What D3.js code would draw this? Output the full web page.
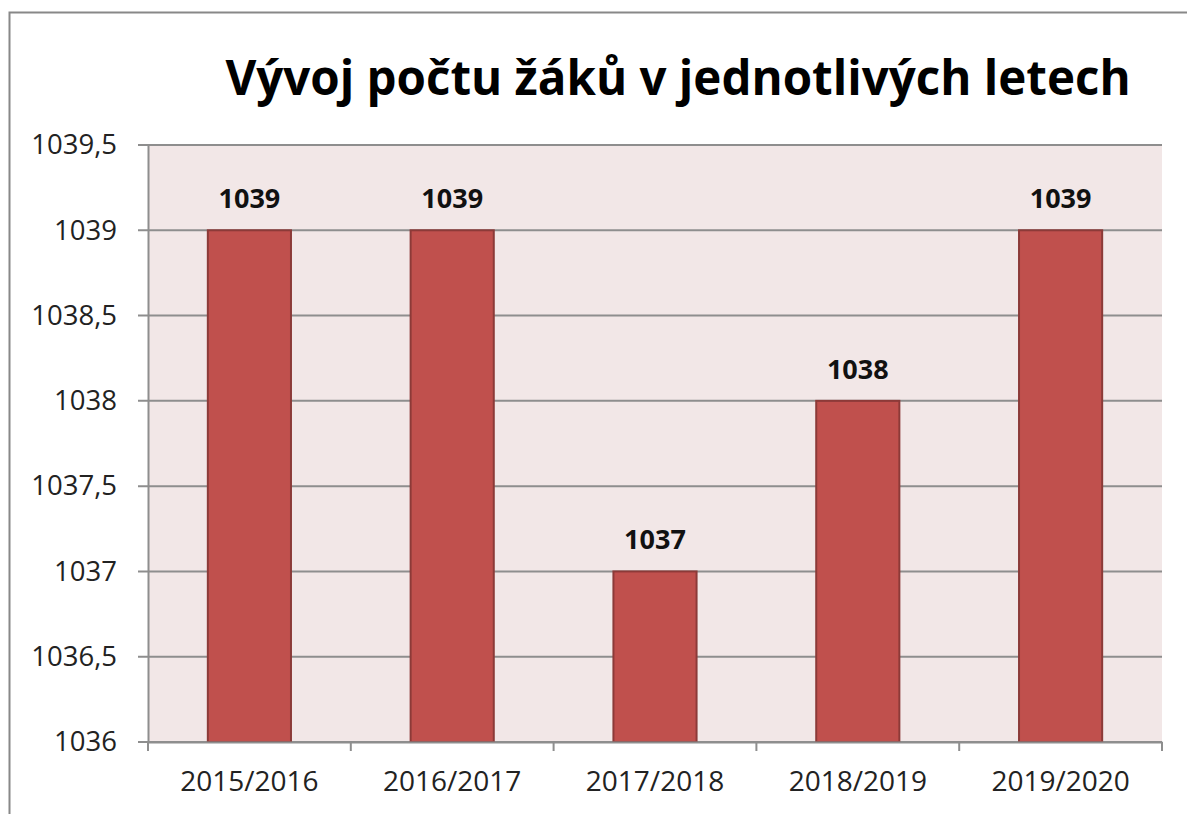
<!DOCTYPE html>
<html>
<head>
<meta charset="utf-8">
<script src="https://cdn.jsdelivr.net/npm/d3@7"></script>
<style>
  body { margin: 0; background: #fff; }
  #chart { width: 1187px; height: 814px; }
</style>
</head>
<body>
<div id="chart"></div>
<script>
// Data
const years = ['2015/2016', '2016/2017', '2017/2018', '2018/2019', '2019/2020'];
const pupils = [1039, 1039, 1037, 1038, 1039];
const yTicks = [1036, 1036.5, 1037, 1037.5, 1038, 1038.5, 1039, 1039.5];
const title = 'Vývoj počtu žáků v jednotlivých letech';

const width = 1187, height = 814;
const margin = { top: 145, right: 25, bottom: 72, left: 148 };
const font_family = '"Open Sans", "Noto Sans", sans-serif';

const svg = d3.select('#chart').append('svg')
    .attr('width', width)
    .attr('height', height)
    .attr('viewBox', `0 0 ${width} ${height}`);

// outer chart border
svg.append('rect')
    .attr('x', 9.5).attr('y', 12.5)
    .attr('width', width + 10).attr('height', height + 10)
    .attr('fill', '#fff')
    .attr('stroke', '#888')
    .attr('stroke-width', 2);

const chartWidth = width - margin.left - margin.right;
const chartHeight = height - margin.top - margin.bottom;

const g = svg.append('g').attr('transform', `translate(${margin.left},${margin.top})`);

const xScale = d3.scaleBand()
    .domain(years)
    .range([0, chartWidth])
    .paddingInner(0.59)
    .paddingOuter(0.295);

const xBand = d3.scaleBand().domain(years).range([0, chartWidth]);

const yScale = d3.scaleLinear()
    .domain([1036, 1039.5])
    .range([chartHeight, 0]);

// plot background
g.append('rect')
    .attr('width', chartWidth)
    .attr('height', chartHeight)
    .attr('fill', '#F2E7E7');

// gridlines
g.append('g')
    .selectAll('line')
    .data(yTicks)
    .join('line')
    .attr('x1', -10)
    .attr('x2', chartWidth)
    .attr('y1', d => yScale(d))
    .attr('y2', d => yScale(d))
    .attr('stroke', '#8E8E8E')
    .attr('stroke-width', 2);

// y axis
const yAxis = g.append('g')
    .call(d3.axisLeft(yScale).tickValues(yTicks).tickSize(0).tickPadding(31)
        .tickFormat(d => String(d).replace('.', ',')));
yAxis.select('.domain').attr('stroke', '#8E8E8E').attr('stroke-width', 2);
yAxis.selectAll('text')
    .attr('font-family', font_family)
    .attr('font-size', 27.5)
    .attr('fill', '#222');

// bars
g.append('g')
    .selectAll('rect')
    .data(years)
    .join('rect')
    .attr('x', (d) => xScale(d))
    .attr('y', (d, i) => yScale(pupils[i]))
    .attr('width', xScale.bandwidth())
    .attr('height', (d, i) => chartHeight - yScale(pupils[i]))
    .attr('fill', '#C0504D')
    .attr('stroke', '#8C3A38')
    .attr('stroke-width', 2);

// data labels
g.append('g')
    .selectAll('text')
    .data(years)
    .join('text')
    .attr('x', d => xScale(d) + xScale.bandwidth() / 2)
    .attr('y', (d, i) => yScale(pupils[i]) - 22)
    .attr('text-anchor', 'middle')
    .attr('font-family', font_family)
    .attr('font-size', 27)
    .attr('font-weight', 'bold')
    .attr('fill', '#111')
    .text((d, i) => pupils[i]);

// x axis
const xAxis = g.append('g')
    .attr('transform', `translate(0,${chartHeight})`)
    .call(d3.axisBottom(xBand).tickSize(0).tickPadding(29));
xAxis.select('.domain').attr('stroke', '#8E8E8E').attr('stroke-width', 2);
xAxis.selectAll('text')
    .attr('font-family', font_family)
    .attr('font-size', 28)
    .attr('fill', '#222');

// category boundary ticks
g.append('g')
    .selectAll('line')
    .data(d3.range(years.length + 1))
    .join('line')
    .attr('x1', i => i * xBand.step())
    .attr('x2', i => i * xBand.step())
    .attr('y1', chartHeight)
    .attr('y2', chartHeight + 9)
    .attr('stroke', '#8E8E8E')
    .attr('stroke-width', 2);

// title
svg.append('text')
    .attr('x', 678)
    .attr('y', 95)
    .attr('text-anchor', 'middle')
    .attr('font-family', font_family)
    .attr('font-size', 47.5)
    .attr('font-weight', 'bold')
    .attr('fill', '#000')
    .text(title);
</script>
</body>
</html>
